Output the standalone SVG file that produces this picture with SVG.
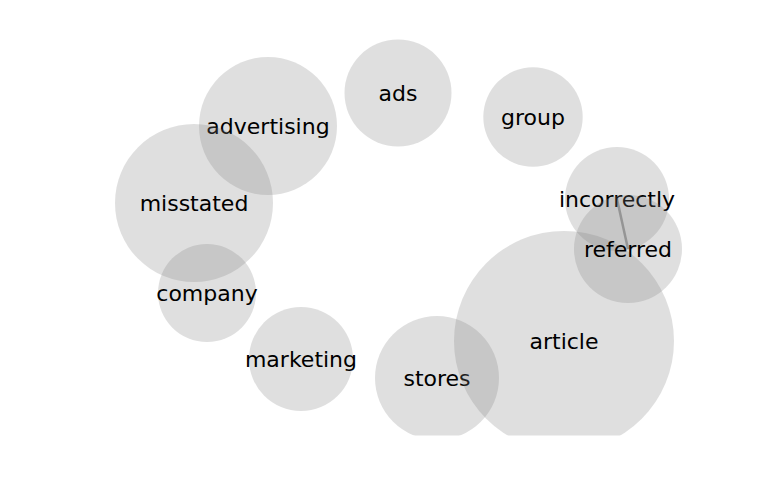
<svg xmlns="http://www.w3.org/2000/svg" width="768" height="500" viewBox="0 0 768 500">
<style>
.n circle{fill:#808080;fill-opacity:0.25}
.n text{font-family:"DejaVu Sans",sans-serif;font-size:22px;fill:#000;text-anchor:middle}
.e{stroke:#808080;stroke-opacity:0.7;stroke-width:2.5;fill:none}
</style>
<defs><clipPath id="c"><rect x="0" y="0" width="768" height="435.5"/></clipPath></defs>
<rect width="768" height="500" fill="#fff"/>
<g clip-path="url(#c)">
<g id="connectors"><line class="e" x1="617" y1="199" x2="628" y2="249"/></g>
<g id="ads" class="n"><circle cx="398" cy="93" r="53.5"/><text x="398" y="100.5">ads</text></g>
<g id="group" class="n"><circle cx="533" cy="117" r="49.7"/><text x="533" y="124.5">group</text></g>
<g id="advertising" class="n"><circle cx="268" cy="126" r="69"/><text x="268" y="133.5">advertising</text></g>
<g id="misstated" class="n"><circle cx="194" cy="203" r="79"/><text x="194" y="210.5">misstated</text></g>
<g id="company" class="n"><circle cx="207" cy="293" r="49"/><text x="207" y="300.5">company</text></g>
<g id="marketing" class="n"><circle cx="301" cy="359" r="52"/><text x="301" y="366.5">marketing</text></g>
<g id="stores" class="n"><circle cx="437" cy="378" r="62"/><text x="437" y="385.5">stores</text></g>
<g id="article" class="n"><circle cx="564" cy="341" r="110"/><text x="564" y="348.5">article</text></g>
<g id="incorrectly" class="n"><circle cx="617" cy="199" r="52"/><text x="617" y="206.5">incorrectly</text></g>
<g id="referred" class="n"><circle cx="628" cy="249" r="54"/><text x="628" y="256.5">referred</text></g>
</g>
</svg>
